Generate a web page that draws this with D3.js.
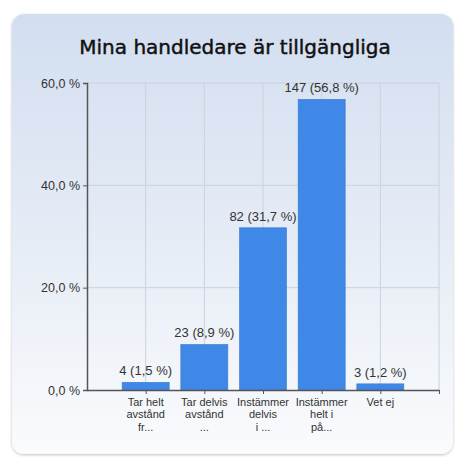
<!DOCTYPE html>
<html>
<head>
<meta charset="utf-8">
<script src="https://cdn.jsdelivr.net/npm/d3@7"></script>
<style>
  html, body { margin: 0; padding: 0; background: #ffffff; }
  svg { display: block; }
</style>
</head>
<body>
<svg id="chart" width="455" height="457"></svg>
<script>
// Survey answers: "Mina handledare är tillgängliga"
const categories = [
  ["Tar helt", "avstånd", "fr..."],
  ["Tar delvis", "avstånd", "..."],
  ["Instämmer", "delvis", "i ..."],
  ["Instämmer", "helt i", "på..."],
  ["Vet ej"]
];
const counts = [4, 23, 82, 147, 3];
const percents = [1.5, 8.9, 31.7, 56.8, 1.2];
const yTicks = [0, 20, 40, 60];
const title = "Mina handledare är tillgängliga";

const svg = d3.select("#chart");
const defs = svg.append("defs");

const grad = defs.append("linearGradient")
  .attr("id", "panelGrad").attr("x1", 0).attr("y1", 0).attr("x2", 0).attr("y2", 1);
grad.append("stop").attr("offset", "0%").attr("stop-color", "#d2def0");
grad.append("stop").attr("offset", "55%").attr("stop-color", "#e7edf6");
grad.append("stop").attr("offset", "100%").attr("stop-color", "#fafbfd");

const shadow = defs.append("filter").attr("id", "shadow")
  .attr("x", "-5%").attr("y", "-5%").attr("width", "110%").attr("height", "110%");
shadow.append("feGaussianBlur").attr("in", "SourceAlpha").attr("stdDeviation", 1.5);
shadow.append("feOffset").attr("dx", 0).attr("dy", 1).attr("result", "off");
shadow.append("feComponentTransfer").append("feFuncA").attr("type", "linear").attr("slope", 0.25);
const merge = shadow.append("feMerge");
merge.append("feMergeNode");
merge.append("feMergeNode").attr("in", "SourceGraphic");

// Rounded panel behind the chart
svg.append("rect")
  .attr("x", 12).attr("y", 14).attr("width", 441).attr("height", 440)
  .attr("rx", 12).attr("ry", 12)
  .attr("fill", "url(#panelGrad)")
  .attr("filter", "url(#shadow)");

// Title
svg.append("text")
  .attr("x", 235).attr("y", 54)
  .attr("text-anchor", "middle")
  .attr("font-family", "DejaVu Sans, Verdana, sans-serif")
  .attr("font-size", 20)
  .attr("fill", "#111")
  .attr("stroke", "#111")
  .attr("stroke-width", 0.45)
  .text(title);

// Scales
const x = d3.scaleLinear().domain([0, categories.length + 1]).range([87, 439]);
const y = d3.scaleLinear().domain([0, 60]).range([390, 83]);
const barW = 47;

const font = "Liberation Sans, Arial, sans-serif";

// Horizontal gridlines
svg.append("g").selectAll("line")
  .data(yTicks.filter(d => d > 0))
  .join("line")
  .attr("x1", x(0)).attr("x2", x(categories.length + 1))
  .attr("y1", d => y(d)).attr("y2", d => y(d))
  .attr("stroke", "#c9d2de").attr("stroke-width", 1);

// Vertical gridlines at each category and the right end
svg.append("g").selectAll("line")
  .data(d3.range(1, categories.length + 2))
  .join("line")
  .attr("x1", d => x(d)).attr("x2", d => x(d))
  .attr("y1", y(60)).attr("y2", y(0))
  .attr("stroke", "#c9d2de").attr("stroke-width", 1);

// Bars
svg.append("g").selectAll("rect")
  .data(percents)
  .join("rect")
  .attr("x", (d, i) => x(i + 1) - barW / 2)
  .attr("width", barW)
  .attr("y", d => y(d))
  .attr("height", d => y(0) - y(d))
  .attr("fill", "#3f88e8")
  .attr("stroke", "#3a78c9")
  .attr("stroke-width", 0.6);

// Value labels
svg.append("g").selectAll("text")
  .data(percents)
  .join("text")
  .attr("x", (d, i) => x(i + 1))
  .attr("y", d => y(d) - 7)
  .attr("text-anchor", "middle")
  .attr("font-family", font)
  .attr("font-size", 13)
  .attr("fill", "#333")
  .text((d, i) => `${counts[i]} (${d.toFixed(1).replace(".", ",")} %)`);

// Y axis
const yAxis = d3.axisLeft(y)
  .tickValues(yTicks)
  .tickSize(4)
  .tickPadding(3)
  .tickFormat(d => d.toFixed(1).replace(".", ",") + " %");
const yg = svg.append("g").attr("transform", `translate(${x(0)},0)`).call(yAxis);
yg.select(".domain").attr("stroke", "#555").attr("stroke-width", 1.5);
yg.selectAll(".tick line").attr("stroke", "#555");
yg.selectAll(".tick text")
  .attr("font-family", font).attr("font-size", 12.5).attr("fill", "#333");

// X axis
const xAxis = d3.axisBottom(x)
  .tickValues(d3.range(1, categories.length + 2))
  .tickSize(4)
  .tickSizeOuter(0)
  .tickFormat("");
const xg = svg.append("g").attr("transform", `translate(0,${y(0)})`).call(xAxis);
xg.select(".domain").attr("stroke", "#555").attr("stroke-width", 1.5);
xg.selectAll(".tick line").attr("stroke", "#555");

// Category labels
const catG = svg.append("g").selectAll("text")
  .data(categories)
  .join("text")
  .attr("text-anchor", "middle")
  .attr("font-family", font)
  .attr("font-size", 11)
  .attr("fill", "#333");
catG.each(function (lines, i) {
  d3.select(this).selectAll("tspan")
    .data(lines)
    .join("tspan")
    .attr("x", x(i + 1))
    .attr("y", (d, j) => y(0) + 16 + j * 12.3)
    .text(d => d);
});
</script>
</body>
</html>
